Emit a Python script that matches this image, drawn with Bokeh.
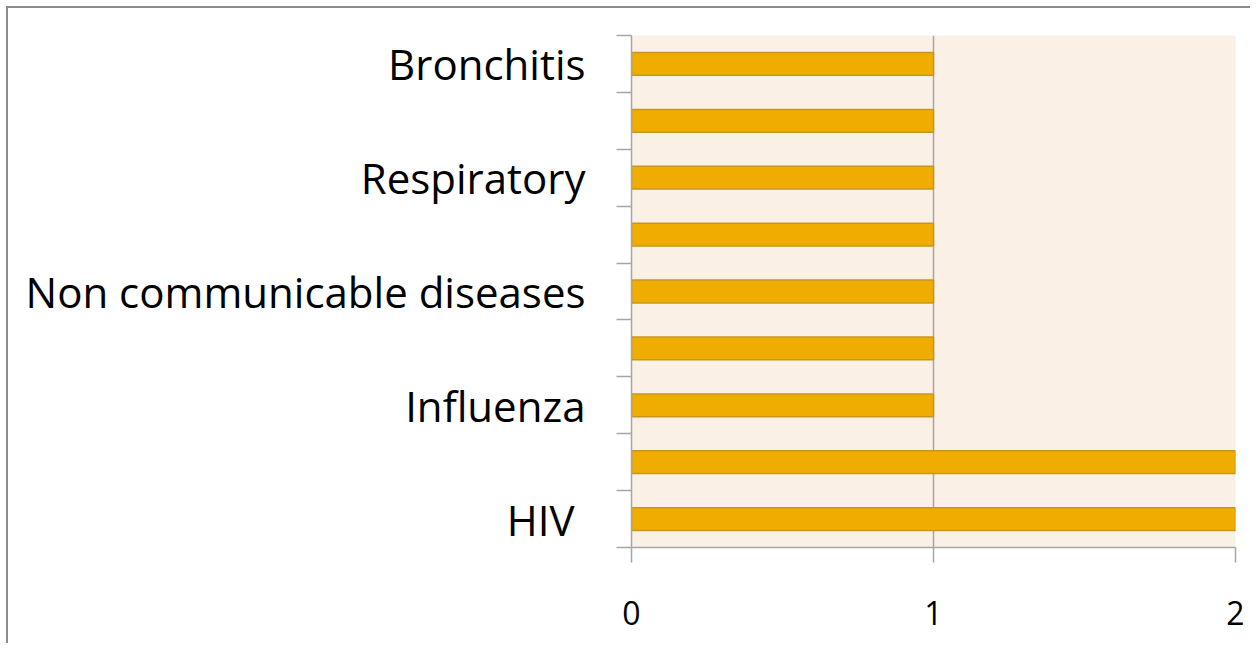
from bokeh.plotting import figure
from bokeh.models import FixedTicker, ColumnDataSource
from bokeh.embed import file_html
from bokeh.resources import INLINE

labels = ["HIV ", "", "Influenza", "", "Non communicable diseases", "", "Respiratory", "", "Bronchitis"]
values = [2, 2, 1, 1, 1, 1, 1, 1, 1]
x_ticks = [0, 1, 2]

pos = [i + 0.5 for i in range(len(labels))]
src = ColumnDataSource(dict(y=pos, v=values))

p = figure(width=1244, height=637, output_backend="svg", toolbar_location=None,
           x_range=(0, 2), y_range=(0, len(labels)),
           min_border_left=623, min_border_right=17, min_border_top=27, min_border_bottom=98)
p.margin = (8, 8, 8, 8)
p.background_fill_color = "#FBF0E6"
p.border_fill_color = "white"
p.outline_line_color = None
p.styles = {"box-shadow": "-2px -2px 0 0 #8c8c8c"}

p.hbar(y="y", right="v", left=0, height=0.4, source=src,
       fill_color="#F0AD00", line_color="#C8961E", line_width=1.5)

# y axis
p.yaxis.ticker = FixedTicker(ticks=pos, minor_ticks=list(range(len(labels) + 1)))
p.yaxis.major_label_overrides = {pv: lab for pv, lab in zip(pos, labels)}
p.yaxis.major_tick_line_color = None
p.yaxis.minor_tick_in = 0
p.yaxis.minor_tick_out = 15
p.yaxis.minor_tick_line_color = "#A6A6A6"
p.yaxis.minor_tick_line_width = 1.5
p.yaxis.axis_line_color = "#A6A6A6"
p.yaxis.axis_line_width = 1.5
p.yaxis.major_label_text_font = "Open Sans"
p.yaxis.major_label_text_font_size = "42px"
p.yaxis.major_label_text_color = "black"
p.yaxis.major_label_standoff = 31

# x axis
p.xaxis.ticker = FixedTicker(ticks=x_ticks)
p.xaxis.major_tick_in = 0
p.xaxis.major_tick_out = 15
p.xaxis.major_tick_line_color = "#A6A6A6"
p.xaxis.major_tick_line_width = 1.5
p.xaxis.axis_line_color = "#A6A6A6"
p.xaxis.axis_line_width = 1.5
p.xaxis.minor_tick_line_color = None
p.xaxis.major_label_text_font = "Open Sans"
p.xaxis.major_label_text_font_size = "32px"
p.xaxis.major_label_text_color = "black"
p.xaxis.major_label_standoff = 38

p.ygrid.grid_line_color = None
p.xgrid.ticker = FixedTicker(ticks=x_ticks)
p.xgrid.grid_line_color = "#A6A6A6"
p.xgrid.grid_line_width = 1.5

open("out.html", "w").write(file_html(p, INLINE))
